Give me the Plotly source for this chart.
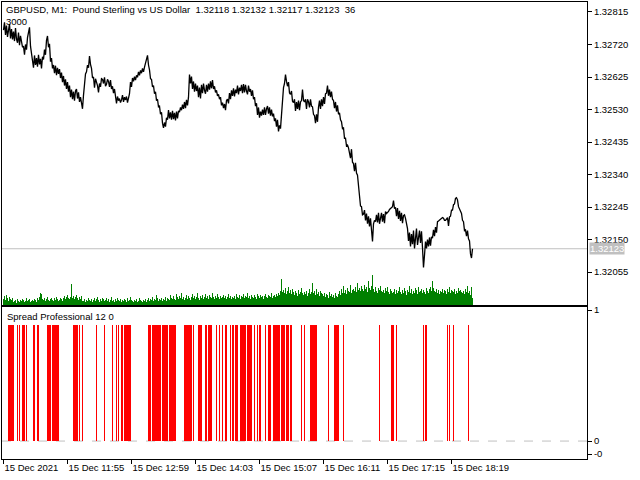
import plotly.graph_objects as go

# ---------------- data ----------------
title_text = "GBPUSD, M1:  Pound Sterling vs US Dollar  1.32118 1.32132 1.32117 1.32123  36"
indicator_text = "Spread Professional 12 0"
volume_scale_text = "3000"

time_labels = ["15 Dec 2021", "15 Dec 11:55", "15 Dec 12:59", "15 Dec 14:03",
               "15 Dec 15:07", "15 Dec 16:11", "15 Dec 17:15", "15 Dec 18:19"]
time_label_bars = [0, 64, 128, 192, 256, 320, 384, 448]

price_ticks = [1.32055, 1.32150, 1.32245, 1.32340, 1.32435, 1.32530, 1.32625, 1.32720, 1.32815]
last_price = 1.32123

close = [
    1.32762, 1.32785, 1.32748, 1.32775, 1.32742, 1.32768, 1.32780, 1.32738, 1.32765, 1.32735,
    1.32758, 1.32730, 1.32768, 1.32736, 1.32725, 1.32755, 1.32718, 1.32745, 1.32722, 1.32712,
    1.32715, 1.32690, 1.32720, 1.32705, 1.32740, 1.32752, 1.32770, 1.32715, 1.32688, 1.32668,
    1.32652, 1.32688, 1.32660, 1.32680, 1.32655, 1.32690, 1.32662, 1.32678, 1.32650, 1.32684,
    1.32676, 1.32705, 1.32690, 1.32732, 1.32745, 1.32712, 1.32722, 1.32670, 1.32680, 1.32650,
    1.32660, 1.32636, 1.32658, 1.32630, 1.32652, 1.32634, 1.32648, 1.32622, 1.32638, 1.32610,
    1.32628, 1.32600, 1.32618, 1.32590, 1.32610, 1.32582, 1.32600, 1.32566, 1.32588, 1.32560,
    1.32582, 1.32556, 1.32584, 1.32590, 1.32562, 1.32580, 1.32552, 1.32566, 1.32540, 1.32532,
    1.32572, 1.32598, 1.32634, 1.32640, 1.32660, 1.32652, 1.32686, 1.32662, 1.32650, 1.32622,
    1.32625, 1.32594, 1.32620, 1.32610, 1.32600, 1.32580, 1.32606, 1.32596, 1.32620, 1.32618,
    1.32606, 1.32624, 1.32598, 1.32604, 1.32618, 1.32612, 1.32596, 1.32616, 1.32590, 1.32598,
    1.32578, 1.32590, 1.32560, 1.32548, 1.32568, 1.32556, 1.32562, 1.32550, 1.32558, 1.32572,
    1.32552, 1.32566, 1.32558, 1.32568, 1.32550, 1.32562, 1.32576, 1.32610, 1.32596, 1.32622,
    1.32612, 1.32626, 1.32616, 1.32630, 1.32624, 1.32640, 1.32630, 1.32644, 1.32636, 1.32650,
    1.32640, 1.32654, 1.32668, 1.32680, 1.32688, 1.32660, 1.32646, 1.32620, 1.32618, 1.32596,
    1.32600, 1.32576, 1.32582, 1.32556, 1.32560, 1.32538, 1.32540, 1.32516, 1.32522, 1.32490,
    1.32476, 1.32492, 1.32480, 1.32506, 1.32500, 1.32528, 1.32504, 1.32522, 1.32500, 1.32526,
    1.32502, 1.32520, 1.32498, 1.32524, 1.32504, 1.32526, 1.32522, 1.32536, 1.32528, 1.32544,
    1.32532, 1.32552, 1.32534, 1.32558, 1.32542, 1.32566, 1.32632, 1.32606, 1.32626, 1.32590,
    1.32612, 1.32582, 1.32606, 1.32584, 1.32600, 1.32566, 1.32594, 1.32562, 1.32602, 1.32578,
    1.32606, 1.32586, 1.32576, 1.32602, 1.32582, 1.32606, 1.32588, 1.32612, 1.32592, 1.32616,
    1.32590, 1.32598, 1.32580, 1.32586, 1.32570, 1.32574, 1.32560, 1.32566, 1.32542, 1.32550,
    1.32534, 1.32546, 1.32528, 1.32556, 1.32560, 1.32548, 1.32578, 1.32560, 1.32586, 1.32570,
    1.32592, 1.32568, 1.32588, 1.32578, 1.32600, 1.32574, 1.32594, 1.32584, 1.32602, 1.32578,
    1.32604, 1.32580, 1.32602, 1.32584, 1.32574, 1.32600, 1.32582, 1.32590, 1.32570, 1.32586,
    1.32560, 1.32566, 1.32540, 1.32548, 1.32514, 1.32536, 1.32506, 1.32524, 1.32512, 1.32530,
    1.32514, 1.32536, 1.32514, 1.32532, 1.32540, 1.32518, 1.32536, 1.32512, 1.32530, 1.32510,
    1.32518, 1.32496, 1.32504, 1.32480, 1.32500, 1.32466, 1.32484, 1.32474, 1.32520, 1.32560,
    1.32594, 1.32606, 1.32632, 1.32612, 1.32598, 1.32610, 1.32578, 1.32574, 1.32584, 1.32554,
    1.32550, 1.32560, 1.32526, 1.32552, 1.32532, 1.32556, 1.32528, 1.32552, 1.32556, 1.32588,
    1.32556, 1.32552, 1.32560, 1.32532, 1.32560, 1.32552, 1.32536, 1.32560, 1.32540, 1.32538,
    1.32516, 1.32512, 1.32490, 1.32516, 1.32494, 1.32536, 1.32556, 1.32532, 1.32560, 1.32540,
    1.32566, 1.32546, 1.32576, 1.32578, 1.32600, 1.32570, 1.32588, 1.32566, 1.32582, 1.32560,
    1.32556, 1.32534, 1.32552, 1.32524, 1.32542, 1.32516, 1.32520, 1.32500, 1.32494, 1.32474,
    1.32476, 1.32446, 1.32446, 1.32424, 1.32426, 1.32418, 1.32404, 1.32388, 1.32414, 1.32376,
    1.32372, 1.32350, 1.32374, 1.32344, 1.32338, 1.32296, 1.32278, 1.32248, 1.32246, 1.32222,
    1.32224, 1.32236, 1.32206, 1.32226, 1.32196, 1.32218, 1.32188, 1.32212, 1.32176, 1.32144,
    1.32196, 1.32206, 1.32202, 1.32222, 1.32200, 1.32228, 1.32196, 1.32220, 1.32228, 1.32202,
    1.32224, 1.32198, 1.32232, 1.32226, 1.32228, 1.32232, 1.32238, 1.32240, 1.32244, 1.32246,
    1.32264, 1.32240, 1.32244, 1.32218, 1.32242, 1.32210, 1.32234, 1.32204, 1.32228, 1.32198,
    1.32220, 1.32222, 1.32212, 1.32196, 1.32182, 1.32146, 1.32170, 1.32130, 1.32166, 1.32136,
    1.32176, 1.32124, 1.32156, 1.32182, 1.32134, 1.32166, 1.32176, 1.32140, 1.32174, 1.32126,
    1.32068, 1.32104, 1.32144, 1.32124, 1.32150, 1.32130, 1.32156, 1.32132, 1.32158, 1.32154,
    1.32178, 1.32160, 1.32186, 1.32170, 1.32202, 1.32204, 1.32206, 1.32210, 1.32210, 1.32214,
    1.32212, 1.32206, 1.32206, 1.32212, 1.32214, 1.32190, 1.32216, 1.32218, 1.32236, 1.32236,
    1.32252, 1.32254, 1.32270, 1.32272, 1.32266, 1.32246, 1.32240, 1.32236, 1.32226, 1.32206,
    1.32202, 1.32176, 1.32178, 1.32160, 1.32176, 1.32152, 1.32146, 1.32108, 1.32096, 1.32123,
]

volume = [
    30, 45, 25, 50, 35, 20, 40, 30, 25, 35,
    15, 20, 25, 10, 30, 20, 15, 25, 20, 30,
    25, 15, 20, 35, 20, 25, 30, 15, 20, 25,
    20, 30, 25, 15, 35, 25, 40, 60, 55, 30,
    25, 35, 20, 30, 40, 25, 20, 30, 35, 25,
    20, 35, 25, 40, 30, 20, 25, 35, 30, 20,
    35, 45, 30, 40, 50, 35, 30, 40, 105, 35,
    45, 30, 40, 50, 35, 25, 40, 30, 45, 20,
    20, 30, 15, 25, 20, 35, 25, 20, 30, 15,
    25, 35, 20, 30, 40, 25, 15, 30, 20, 35,
    30, 20, 25, 35, 20, 30, 15, 25, 40, 20,
    25, 15, 30, 20, 35, 25, 20, 30, 15, 25,
    20, 30, 25, 15, 35, 20, 25, 40, 25, 20,
    15, 25, 20, 30, 15, 20, 35, 25, 20, 15,
    25, 20, 30, 15, 25, 35, 20, 30, 25, 40,
    20, 30, 25, 50, 35, 20, 30, 25, 35, 20,
    30, 25, 40, 20, 35, 30, 25, 50, 35, 30,
    45, 30, 25, 55, 40, 30, 45, 35, 60, 30,
    40, 25, 35, 50, 30, 45, 35, 25, 40, 55,
    35, 45, 30, 40, 60, 35, 25, 45, 35, 50,
    30, 40, 55, 35, 45, 30, 50, 40, 35, 60,
    40, 30, 45, 35, 55, 40, 30, 45, 35, 40,
    50, 35, 45, 30, 40, 55, 35, 45, 30, 40,
    35, 45, 30, 55, 40, 35, 50, 30, 45, 40,
    55, 35, 45, 40, 60, 35, 45, 30, 50, 40,
    35, 50, 40, 30, 55, 45, 35, 50, 40, 45,
    30, 45, 55, 40, 35, 50, 45, 40, 60, 35,
    45, 50, 40, 55, 45, 60, 50, 70, 130, 65,
    75, 60, 85, 55, 70, 90, 60, 75, 55, 80,
    65, 50, 70, 60, 45, 75, 55, 65, 85, 60,
    50, 65, 55, 70, 45, 60, 80, 55, 65, 110,
    60, 70, 50, 80, 55, 65, 45, 70, 60, 55,
    45, 60, 40, 55, 50, 35, 65, 45, 55, 40,
    50, 35, 60, 45, 40, 55, 70, 50, 80, 60,
    95, 60, 75, 55, 85, 70, 65, 100, 60, 75,
    80, 70, 90, 65, 110, 75, 85, 70, 95, 80,
    70, 100, 80, 90, 65, 120, 85, 75, 95, 150,
    80, 65, 90, 70, 60, 85, 75, 95, 70, 65,
    75, 60, 85, 70, 90, 65, 55, 80, 70, 60,
    65, 80, 55, 75, 60, 70, 90, 65, 55, 75,
    60, 85, 70, 50, 75, 65, 95, 60, 80, 55,
    70, 60, 85, 75, 55, 90, 65, 70, 80, 60,
    75, 65, 55, 85, 70, 60, 80, 90, 70, 120,
    85, 70, 65, 80, 60, 75, 55, 70, 65, 80,
    60, 75, 70, 55, 80, 65, 90, 60, 75, 70,
    65, 80, 55, 70, 60, 85, 70, 75, 65, 60,
    70, 55, 80, 65, 95, 60, 70, 50, 90, 36,
]

# bar-index runs (inclusive) where the spread indicator is on, and its bar height
spread_runs = [
    (5, 10), (14, 14), (16, 16), (19, 21), (23, 23), (30, 31), (34, 35), (44, 47),
    (49, 55), (70, 74), (76, 76), (79, 79), (93, 93), (101, 101), (109, 109), (113, 113),
    (115, 115), (118, 119), (121, 127), (145, 147), (149, 157), (159, 164), (166, 172),
    (181, 188), (190, 190), (195, 198), (202, 203), (205, 208), (213, 213), (216, 216),
    (219, 219), (222, 223), (227, 227), (229, 230), (232, 234), (237, 242), (244, 248),
    (251, 251), (254, 254), (256, 257), (262, 262), (265, 267), (270, 276), (278, 281),
    (283, 285), (287, 288), (298, 298), (301, 301), (307, 313), (325, 325), (331, 335),
    (340, 340), (376, 376), (388, 390), (393, 393), (420, 420), (422, 423), (444, 444),
    (446, 446), (450, 450), (465, 465),
]
spread_on_value = 0.885

# ---------------- build ----------------
n = len(close)
bars = list(range(n))
spread = [0.0] * n
for a, b in spread_runs:
    for i in range(a, b + 1):
        spread[i] = spread_on_value

FONT = "Liberation Sans, Arial, sans-serif"
FS = 9.5

fig = go.Figure()
fig.add_trace(go.Bar(x=bars, y=volume, width=1,
                     marker=dict(color="#008000", opacity=0.999, line=dict(width=0)),
                     xaxis="x", yaxis="y3", hoverinfo="skip"))
fig.add_trace(go.Scatter(x=bars, y=close, mode="lines", line=dict(color="black", width=1.3),
                         xaxis="x", yaxis="y", hoverinfo="skip"))
fig.add_trace(go.Bar(x=bars, y=spread, width=1,
                     marker=dict(color="#ff0000", opacity=0.999, line=dict(width=0)),
                     xaxis="x2", yaxis="y2", hoverinfo="skip"))

xr = [-1.5, 583.5]
main_dom = [0.337, 1.0]
sub_dom = [0.0, 0.3326]

axis_common = dict(showgrid=False, zeroline=False, showline=True, mirror=True,
                   linecolor="black", linewidth=1, automargin=False)

fig.update_layout(
    width=640, height=480,
    margin=dict(l=2, r=53, t=2, b=21),
    paper_bgcolor="white", plot_bgcolor="white",
    showlegend=False, bargap=0,
    font=dict(family=FONT, size=FS, color="black"),
    xaxis=dict(domain=[0, 1], range=xr, anchor="y", showticklabels=False, ticks="",
               **axis_common),
    yaxis=dict(domain=main_dom, range=[1.319586, 1.328442], side="right", anchor="x",
               tickvals=price_ticks, tickformat=".5f", ticks="outside", ticklen=4,
               tickcolor="black", tickfont=dict(family=FONT, size=FS), **axis_common),
    yaxis3=dict(overlaying="y", range=[0, 1515], visible=False, anchor="x"),
    xaxis2=dict(domain=[0, 1], range=xr, anchor="y2", tickvals=time_label_bars,
                ticktext=time_labels, ticks="outside", ticklen=4, tickcolor="black",
                tickangle=0, ticklabelposition="outside right",
                tickfont=dict(family=FONT, size=FS), **axis_common),
    yaxis2=dict(domain=sub_dom, range=[-0.137, 1.023], side="right", anchor="x2",
                tickvals=[1, 0, -0.1], ticktext=["1", "0", "-0"], ticks="outside",
                ticklen=4, tickcolor="black", tickfont=dict(family=FONT, size=FS),
                **axis_common),
)

# last price line and zero level
fig.add_shape(type="line", xref="x domain", yref="y", x0=0, x1=1, y0=last_price, y1=last_price,
              line=dict(color="#c0c0c0", width=1), layer="below")
fig.add_shape(type="line", xref="x2 domain", yref="y2", x0=0, x1=1, y0=0, y1=0,
              line=dict(color="#c0c0c0", width=1, dash="dash"), layer="below")

def px_x(px):
    return (px - 2) / 585.0

def px_y(py):
    return (459 - py) / 457.0

fig.add_annotation(text=title_text, xref="paper", yref="paper", x=px_x(4), y=px_y(9.5),
                   xanchor="left", yanchor="middle", showarrow=False,
                   font=dict(family=FONT, size=FS, color="black"))
fig.add_annotation(text=volume_scale_text, xref="paper", yref="paper", x=px_x(4), y=px_y(21),
                   xanchor="left", yanchor="middle", showarrow=False,
                   font=dict(family=FONT, size=FS, color="black"))
fig.add_annotation(text=indicator_text, xref="paper", yref="paper", x=px_x(5), y=px_y(316.5),
                   xanchor="left", yanchor="middle", showarrow=False,
                   font=dict(family=FONT, size=FS, color="black"))
fig.add_annotation(text="1.32123", xref="paper", yref="y", x=px_x(589), y=last_price,
                   xanchor="left", yanchor="middle", showarrow=False, bgcolor="#c0c0c0",
                   borderpad=0, font=dict(family=FONT, size=FS, color="white"))

fig.write_html("out.html", config={"displayModeBar": False},
               post_script="document.body.style.margin='0';document.body.style.overflow='hidden';")
